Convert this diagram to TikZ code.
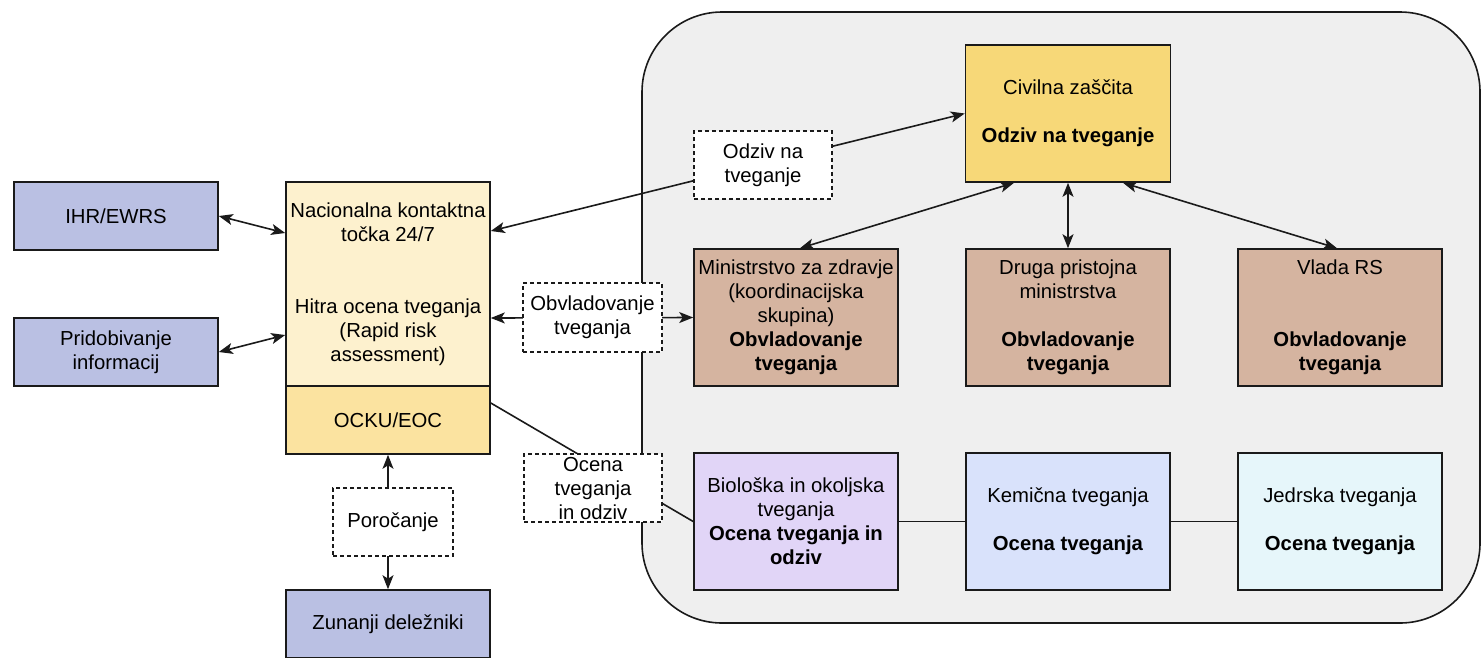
\documentclass[tikz,border=0pt]{standalone}
\usepackage{fontspec}
\setmainfont{Liberation Sans}
\usetikzlibrary{arrows.meta}
\definecolor{cblue}{HTML}{BAC0E3}
\definecolor{cnac}{HTML}{FDF1CE}
\definecolor{cocku}{HTML}{FBE3A0}
\definecolor{cciv}{HTML}{F7D878}
\definecolor{cbrown}{HTML}{D5B4A0}
\definecolor{cbio}{HTML}{E1D5F7}
\definecolor{ckem}{HTML}{D9E2FB}
\definecolor{cjed}{HTML}{E6F6FA}
\definecolor{cgrp}{HTML}{EFEFEF}
\definecolor{cline}{HTML}{1A1A1A}
\tikzset{
  box/.style={draw=cline, line width=1.6pt, rectangle, minimum width=204pt, inner sep=2pt, align=center, font=\fontsize{20.3pt}{24pt}\selectfont},
  lbl/.style={draw=cline, line width=1.4pt, dash pattern=on 4pt off 3pt, fill=white, rectangle, minimum width=138pt, minimum height=68pt, inner sep=1pt, align=center, font=\fontsize{20.3pt}{24pt}\selectfont},
  conn/.style={draw=cline, line width=1.6pt},
  biarr/.style={conn, {Stealth[length=14pt,width=11pt,inset=3.5pt]}-{Stealth[length=14pt,width=11pt,inset=3.5pt]}},
}
\begin{document}
\begin{tikzpicture}[x=1pt,y=-1pt]
\useasboundingbox (0,0) rectangle (1482,657);
% group container
\node[draw=cline, line width=1.6pt, fill=cgrp, rounded corners=80pt, minimum width=838pt, minimum height=611pt, inner sep=0pt] (grp) at (1061,317.5) {};
% left nodes
\node[box, fill=cblue, minimum height=68pt] (ihr) at (116,216) {IHR/EWRS};
\node[box, fill=cblue, minimum height=68pt] (prid) at (116,352) {Pridobivanje\\informacij};
\node[box, fill=cnac, minimum height=204pt] (nac) at (388,284) {Nacionalna kontaktna\\točka 24/7\\[48pt]Hitra ocena tveganja\\(Rapid risk\\assessment)};
\node[box, fill=cocku, minimum height=68pt] (ocku) at (388,420) {OCKU/EOC};
\node[box, fill=cblue, minimum height=68pt] (zun) at (388,624) {Zunanji deležniki};
% right nodes
\node[box, fill=cciv, minimum width=205pt, minimum height=137pt] (civ) at (1068,113.5) {Civilna zaščita\\[24pt]\textbf{Odziv na tveganje}};
\node[box, fill=cbrown, minimum height=137pt] (min) at (796,317.5) {Ministrstvo za zdravje\\(koordinacijska\\skupina)\\\textbf{Obvladovanje}\\\textbf{tveganja}};
\node[box, fill=cbrown, minimum height=137pt] (dru) at (1068,317.5) {Druga pristojna\\ministrstva\\[24pt]\textbf{Obvladovanje}\\\textbf{tveganja}};
\node[box, fill=cbrown, minimum height=137pt] (vla) at (1340,317.5) {Vlada RS\\[48pt]\textbf{Obvladovanje}\\\textbf{tveganja}};
\node[box, fill=cbio, minimum height=137pt] (bio) at (796,521.5) {Biološka in okoljska\\tveganja\\\textbf{Ocena tveganja in}\\\textbf{odziv}};
\node[box, fill=ckem, minimum height=137pt] (kem) at (1068,521.5) {Kemična tveganja\\[24pt]\textbf{Ocena tveganja}};
\node[box, fill=cjed, minimum height=137pt] (jed) at (1340,521.5) {Jedrska tveganja\\[24pt]\textbf{Ocena tveganja}};
% connectors
\draw[biarr] (ihr.east) -- ([yshift=51pt]nac.west);
\draw[biarr] (prid.east) -- ([yshift=-51pt]nac.west);
\draw[biarr] ([yshift=53pt]nac.east) -- (civ.west);
\draw[biarr] ([yshift=-34pt]nac.east) -- (min.west);
\draw[conn] ([yshift=17pt]ocku.east) -- (bio.west);
\draw[biarr] (ocku.south) -- (zun.north);
\draw[biarr] ([xshift=-54pt]civ.south) -- ([xshift=4pt]min.north);
\draw[biarr] (civ.south) -- (dru.north);
\draw[biarr] ([xshift=55pt]civ.south) -- ([xshift=-3pt]vla.north);
\draw[conn] (bio.east) -- (kem.west);
\draw[conn] (kem.east) -- (jed.west);
% edge labels
\node[lbl] (lodz) at (763,165) {Odziv na\\tveganje};
\node[lbl, minimum width=139pt, minimum height=69pt] (lobv) at (592.5,317.5) {Obvladovanje\\tveganja};
\node[lbl] (loce) at (593,488) {Ocena\\tveganja\\in odziv};
\node[lbl, minimum width=120pt] (lpor) at (393,522) {Poročanje};
\end{tikzpicture}
\end{document}
